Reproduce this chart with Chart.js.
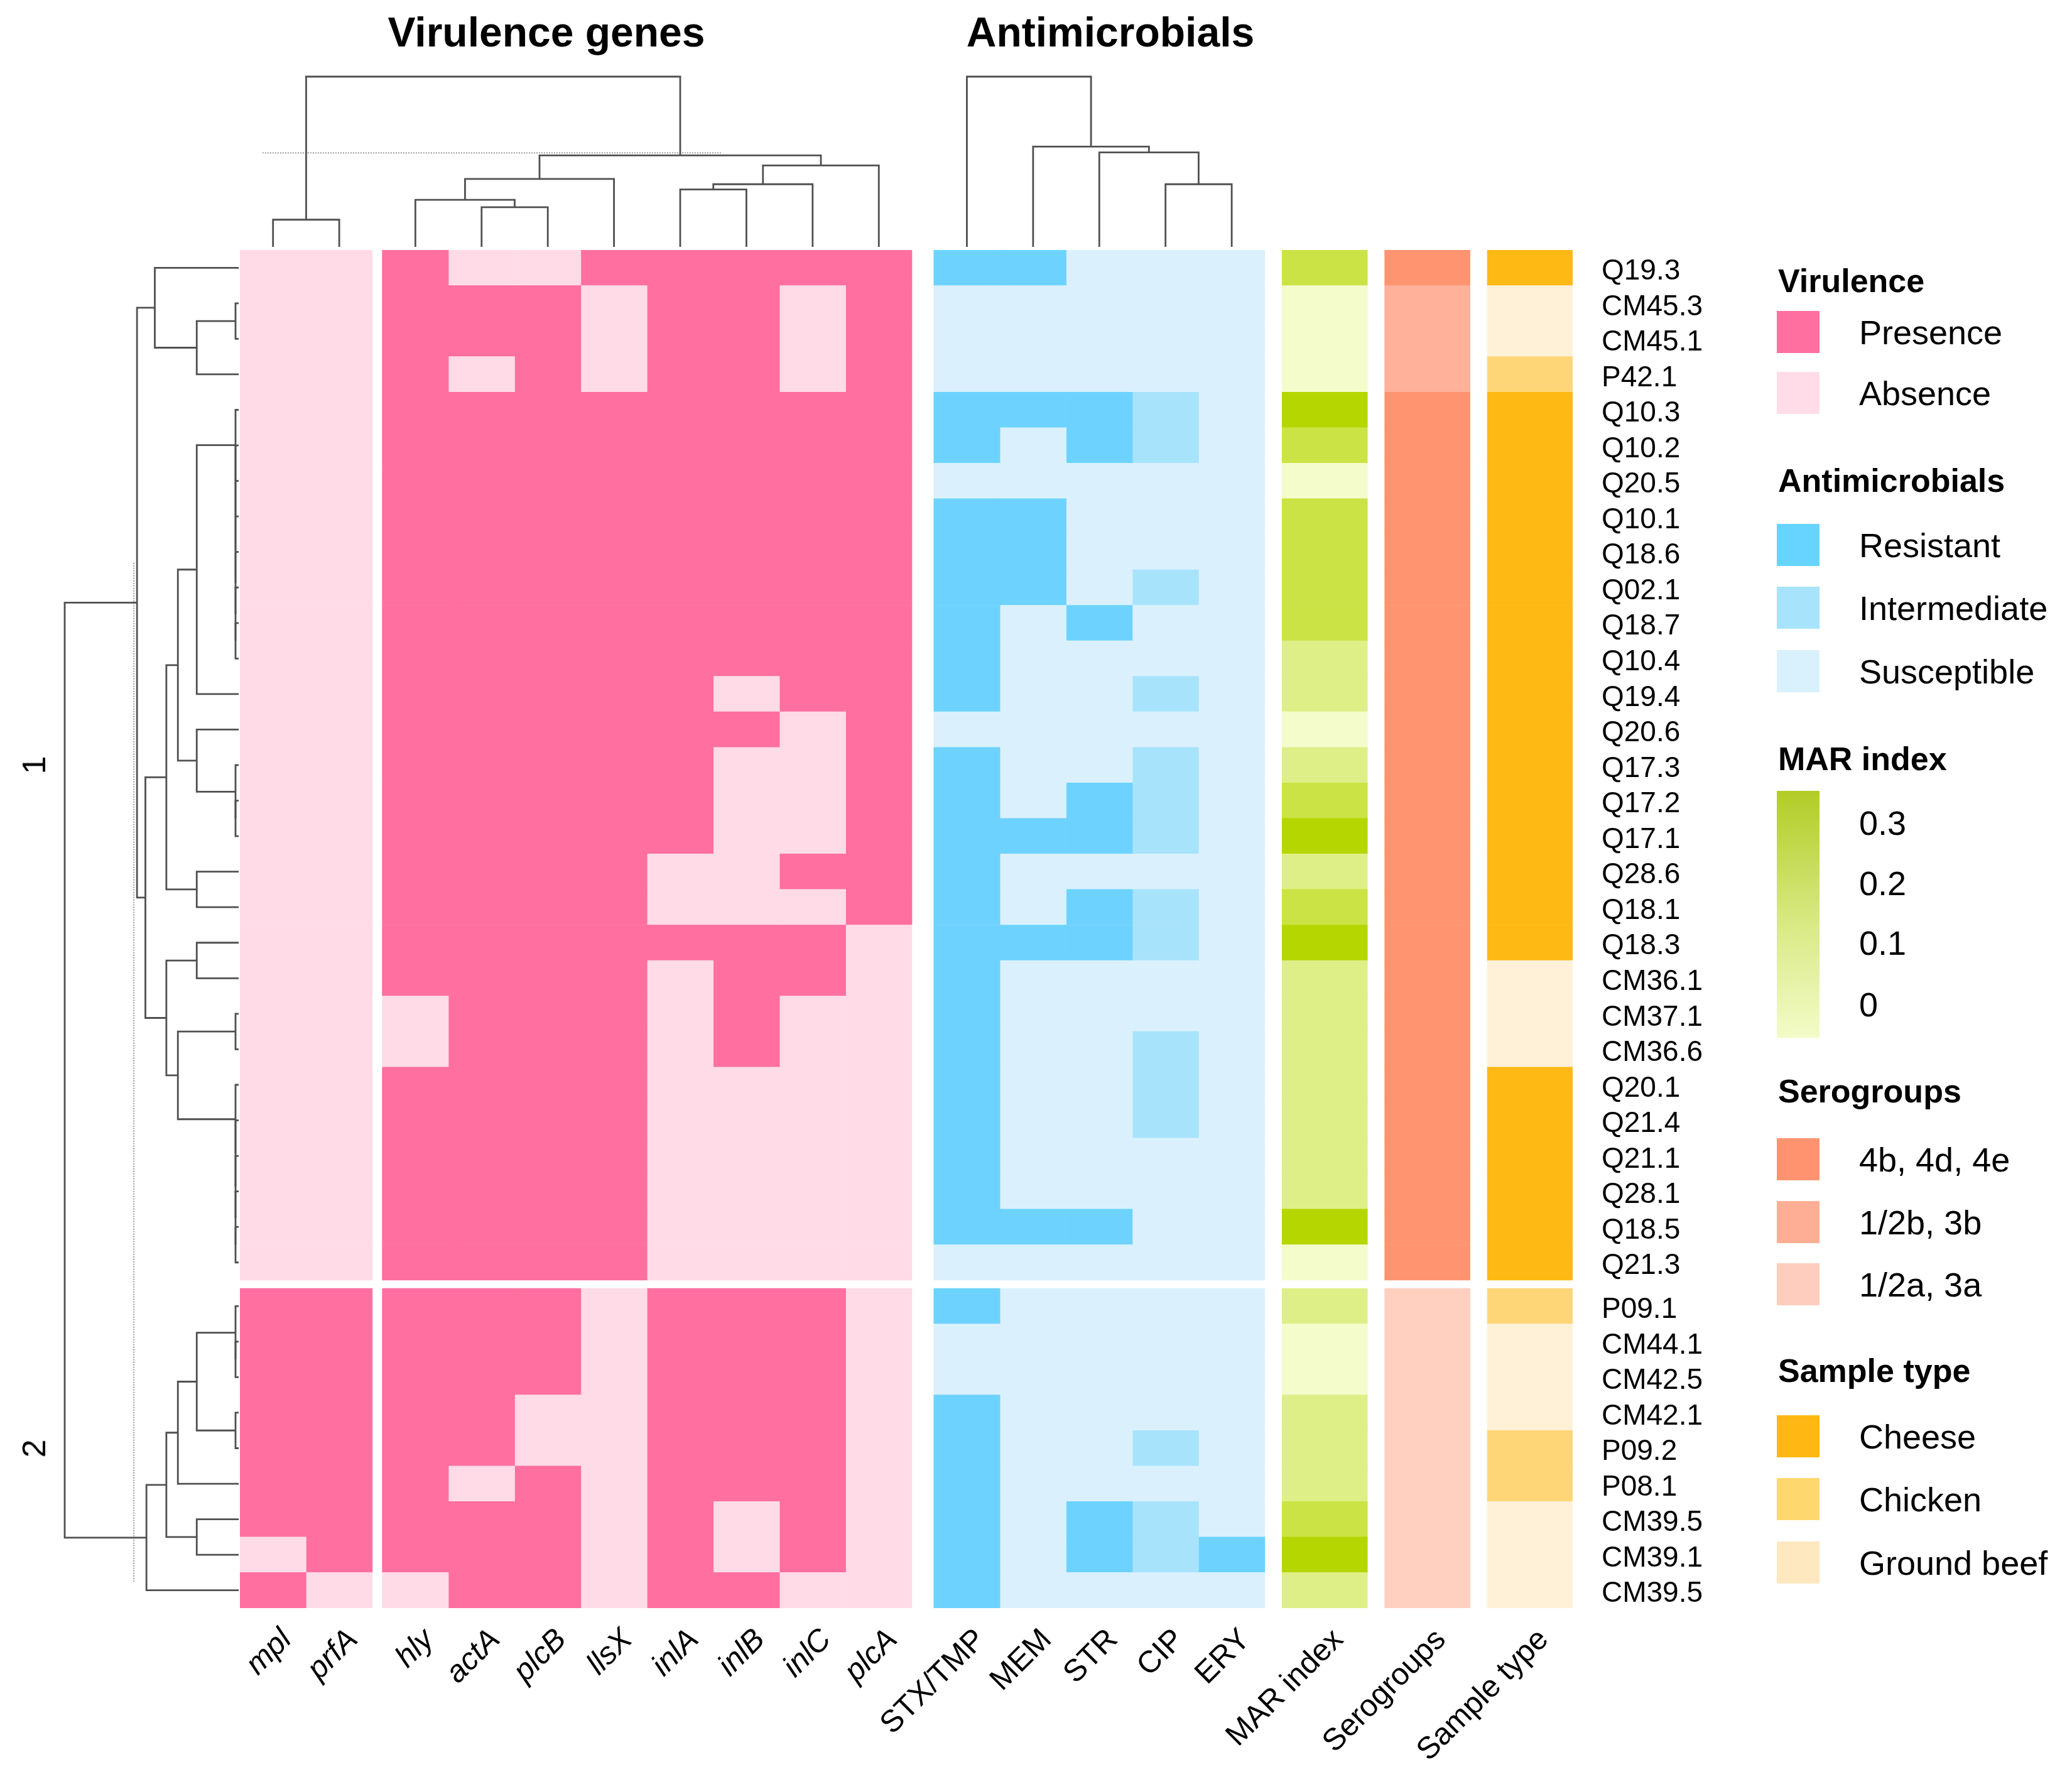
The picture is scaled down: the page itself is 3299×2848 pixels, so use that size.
<!DOCTYPE html>
<html>
<head>
<meta charset="utf-8">
<title>Virulence genes and antimicrobial resistance heatmap</title>
<script src="https://cdn.jsdelivr.net/npm/chart.js@4.4.1/dist/chart.umd.min.js"></script>
<style>
  body { margin: 0; background: #fff; }
  #page { position: relative; width: 3299px; height: 2848px; overflow: hidden;
          font-family: "Liberation Sans", Arial, sans-serif; color: #000; }
  canvas { position: absolute; }
  .title { position: absolute; font-size: 66px; font-weight: bold; line-height: 1;
           transform: translateX(-50%); white-space: nowrap; }
  .lg-title { position: absolute; font-size: 52px; font-weight: bold; line-height: 1;
              transform: translateY(-50%); white-space: nowrap; }
  .lg-label { position: absolute; font-size: 54px; line-height: 1;
              transform: translateY(-50%); white-space: nowrap; }
  .lg-box { position: absolute; }
  .cluster { position: absolute; font-size: 52px; line-height: 1;
             transform: translate(-50%, -50%) rotate(-90deg); }
</style>
</head>
<body>
<div id="page">
  <canvas id="rowDend"></canvas>
  <canvas id="colDend"></canvas>
  <canvas id="heatmap"></canvas>
  <div class="title" style="left:870px; top:18px;">Virulence genes</div>
  <div class="title" style="left:1768px; top:18px;">Antimicrobials</div>
  <div id="legend"></div>
</div>
<script>
// ---------- data ----------
const rowLabels = ["Q19.3","CM45.3","CM45.1","P42.1","Q10.3","Q10.2","Q20.5","Q10.1","Q18.6","Q02.1",
  "Q18.7","Q10.4","Q19.4","Q20.6","Q17.3","Q17.2","Q17.1","Q28.6","Q18.1","Q18.3",
  "CM36.1","CM37.1","CM36.6","Q20.1","Q21.4","Q21.1","Q28.1","Q18.5","Q21.3",
  "P09.1","CM44.1","CM42.5","CM42.1","P09.2","P08.1","CM39.5","CM39.1","CM39.5"];
const rowCluster = [1,1,1,1,1,1,1,1,1,1, 1,1,1,1,1,1,1,1,1,1, 1,1,1,1,1,1,1,1,1,
  2,2,2,2,2,2,2,2,2];

const virulenceGenes = ["mpl","prfA","hly","actA","plcB","llsX","inlA","inlB","inlC","plcA"];
const virulenceSlice = [1,1,2,2,2,2,2,2,2,2];
const antimicrobials = ["STX/TMP","MEM","STR","CIP","ERY"];
const annotationNames = ["MAR index","Serogroups","Sample type"];

// 1 = presence, 0 = absence
const virulence = [
  [0,0,1,0,0,1,1,1,1,1],
  [0,0,1,1,1,0,1,1,0,1],
  [0,0,1,1,1,0,1,1,0,1],
  [0,0,1,0,1,0,1,1,0,1],
  [0,0,1,1,1,1,1,1,1,1],
  [0,0,1,1,1,1,1,1,1,1],
  [0,0,1,1,1,1,1,1,1,1],
  [0,0,1,1,1,1,1,1,1,1],
  [0,0,1,1,1,1,1,1,1,1],
  [0,0,1,1,1,1,1,1,1,1],
  [0,0,1,1,1,1,1,1,1,1],
  [0,0,1,1,1,1,1,1,1,1],
  [0,0,1,1,1,1,1,0,1,1],
  [0,0,1,1,1,1,1,1,0,1],
  [0,0,1,1,1,1,1,0,0,1],
  [0,0,1,1,1,1,1,0,0,1],
  [0,0,1,1,1,1,1,0,0,1],
  [0,0,1,1,1,1,0,0,1,1],
  [0,0,1,1,1,1,0,0,0,1],
  [0,0,1,1,1,1,1,1,1,0],
  [0,0,1,1,1,1,0,1,1,0],
  [0,0,0,1,1,1,0,1,0,0],
  [0,0,0,1,1,1,0,1,0,0],
  [0,0,1,1,1,1,0,0,0,0],
  [0,0,1,1,1,1,0,0,0,0],
  [0,0,1,1,1,1,0,0,0,0],
  [0,0,1,1,1,1,0,0,0,0],
  [0,0,1,1,1,1,0,0,0,0],
  [0,0,1,1,1,1,0,0,0,0],
  [1,1,1,1,1,0,1,1,1,0],
  [1,1,1,1,1,0,1,1,1,0],
  [1,1,1,1,1,0,1,1,1,0],
  [1,1,1,1,0,0,1,1,1,0],
  [1,1,1,1,0,0,1,1,1,0],
  [1,1,1,0,1,0,1,1,1,0],
  [1,1,1,1,1,0,1,0,1,0],
  [0,1,1,1,1,0,1,0,1,0],
  [1,0,0,1,1,0,1,1,0,0]
];

// 2 = resistant, 1 = intermediate, 0 = susceptible
const resistance = [
  [2,2,0,0,0],[0,0,0,0,0],[0,0,0,0,0],[0,0,0,0,0],[2,2,2,1,0],
  [2,0,2,1,0],[0,0,0,0,0],[2,2,0,0,0],[2,2,0,0,0],[2,2,0,1,0],
  [2,0,2,0,0],[2,0,0,0,0],[2,0,0,1,0],[0,0,0,0,0],[2,0,0,1,0],
  [2,0,2,1,0],[2,2,2,1,0],[2,0,0,0,0],[2,0,2,1,0],[2,2,2,1,0],
  [2,0,0,0,0],[2,0,0,0,0],[2,0,0,1,0],[2,0,0,1,0],[2,0,0,1,0],
  [2,0,0,0,0],[2,0,0,0,0],[2,2,2,0,0],[0,0,0,0,0],
  [2,0,0,0,0],[0,0,0,0,0],[0,0,0,0,0],[2,0,0,0,0],[2,0,0,1,0],
  [2,0,0,0,0],[2,0,2,1,0],[2,0,2,1,2],[2,0,0,0,0]
];

const marIndex = [0.2,0,0,0,0.3,0.2,0,0.2,0.2,0.2, 0.2,0.1,0.1,0,0.1,0.2,0.3,0.1,0.2,0.3,
  0.1,0.1,0.1,0.1,0.1,0.1,0.1,0.3,0, 0.1,0,0,0.1,0.1,0.1,0.2,0.3,0.1];
const marTicks = ["0.3","0.2","0.1","0"];

const serogroupNames = ["4b, 4d, 4e","1/2b, 3b","1/2a, 3a"];
const serogroup = [0,1,1,1,0,0,0,0,0,0, 0,0,0,0,0,0,0,0,0,0, 0,0,0,0,0,0,0,0,0,
  2,2,2,2,2,2,2,2,2];

const sampleTypeNames = ["Cheese","Chicken","Ground beef"];
const sampleType = [0,2,2,1,0,0,0,0,0,0, 0,0,0,0,0,0,0,0,0,0, 2,2,2,0,0,0,0,0,0,
  1,2,2,2,1,1,2,2,2];

// dendrograms, hclust style: negative = leaf number, positive = earlier merge
const rowMerges = [
  [-2,-3,0.15],[1,-4,2.0],[-1,2,4.0],
  [-11,-12,0.15],[-10,4,0.15],[-9,5,0.15],[-8,6,0.15],[-7,7,0.15],[-6,8,0.15],[-5,9,0.15],
  [10,-13,2.0],[-16,-17,0.15],[-15,12,0.15],[-14,13,2.0],[11,14,2.9],
  [-18,-19,2.0],[15,16,3.45],[-20,-21,2.0],[-22,-23,0.15],
  [-28,-29,0.15],[-27,20,0.15],[-26,21,0.15],[-25,22,0.15],[-24,23,0.15],
  [19,24,2.9],[18,25,3.45],[17,26,4.45],[3,27,4.85],
  [-31,-32,0.15],[-30,29,0.15],[-33,-34,0.15],[30,31,2.0],[32,-35,2.9],
  [-36,-37,2.0],[33,34,3.45],[35,-38,4.4],[28,36,8.3]
];
const virulenceMerges = [
  [-1,-2,1.3],[-4,-5,1.9],[-3,2,2.25],[3,-6,3.25],
  [-7,-8,2.75],[5,-9,3.0],[6,-10,3.9],[4,7,4.38],[1,8,8.15]
];
const antimicrobialMerges = [[-4,-5,3.0],[-3,1,4.52],[-2,2,4.8],[-1,3,8.15]];
const rowCutHeight = 5.0;
const colCutHeight = 4.5;

// ---------- colours ----------
const virColors = ["#ffdbe7", "#ff6fa0"];
const amrColors = ["#daf1fd", "#a8e3fc", "#6dd3fe"];
const seroColors = ["#ff9470", "#ffb199", "#ffcfbf"];
const sampleColors = ["#ffb914", "#ffd677", "#fff1d8"];
const marLow = [244, 252, 203], marHigh = [182, 214, 0], marMax = 0.3;

function marColor(v) {
  const t = Math.min(Math.max(v / marMax, 0), 1);
  const c = marLow.map((lo, k) => Math.round(lo + (marHigh[k] - lo) * t));
  return `rgb(${c[0]},${c[1]},${c[2]})`;
}

// ---------- layout (page pixels) ----------
const FONT = '"Liberation Sans", Arial, sans-serif';
const hmLeft = 382, hmTop = 398, hmWidth = 2122, hmHeight = 2162;
const gapSlice = 0.15, gapGroup = 0.33, gapAnno = 0.26, annoWidth = 1.29, clusterGap = 0.23;
const rowCutSpan = [8.8, 37.5];
const colCutSpan = [0.34, 7.28];

// column spans in column units
const columnNames = [...virulenceGenes, ...antimicrobials, ...annotationNames];
const colSpans = [];
let cx = 0;
virulenceGenes.forEach((g, i) => {
  if (i > 0 && virulenceSlice[i] !== virulenceSlice[i - 1]) cx += gapSlice;
  colSpans.push([cx, cx + 1]);
  cx += 1;
});
cx += gapGroup;
antimicrobials.forEach(() => { colSpans.push([cx, cx + 1]); cx += 1; });
annotationNames.forEach(() => { cx += gapAnno; colSpans.push([cx, cx + annoWidth]); cx += annoWidth; });
const xTotal = cx;
const colCenters = colSpans.map(s => (s[0] + s[1]) / 2);

// row centres in row units (small gap between the two clusters)
const rowPos = rowLabels.map((r, i) => i + 0.5 + (rowCluster[i] === 2 ? clusterGap : 0));
const yTotal = rowLabels.length + clusterGap;

function placeCanvas(id, left, top, width, height) {
  const c = document.getElementById(id);
  c.width = width; c.height = height;
  c.style.left = left + "px"; c.style.top = top + "px";
  c.style.width = width + "px"; c.style.height = height + "px";
  return c;
}

function baseOptions(padding, xScale, yScale) {
  return {
    responsive: false, animation: false, events: [],
    layout: { padding: padding, autoPadding: false },
    plugins: { legend: { display: false }, tooltip: { enabled: false } },
    scales: { x: xScale, y: yScale }
  };
}

// ---------- heatmap ----------
const cellColors = [];
virulenceGenes.forEach((g, j) => cellColors.push(virulence.map(r => virColors[r[j]])));
antimicrobials.forEach((a, j) => cellColors.push(resistance.map(r => amrColors[r[j]])));
cellColors.push(marIndex.map(marColor));
cellColors.push(serogroup.map(s => seroColors[s]));
cellColors.push(sampleType.map(s => sampleColors[s]));

const hmDatasets = columnNames.map((name, j) => ({
  label: name,
  data: rowLabels.map((r, i) => ({ y: rowPos[i], x: colSpans[j] })),
  backgroundColor: cellColors[j],
  borderWidth: 0,
  barPercentage: 1,
  categoryPercentage: 1,
  grouped: false
}));

const padL = 90, padT = 100, axisRightW = 260, axisBottomH = 280;
placeCanvas("heatmap", hmLeft - padL, hmTop - padT,
  padL + hmWidth + axisRightW, padT + hmHeight + axisBottomH);

new Chart(document.getElementById("heatmap"), {
  type: "bar",
  data: { datasets: hmDatasets },
  options: Object.assign(baseOptions({ left: padL, top: padT, right: 0, bottom: 0 },
    {
      type: "linear", position: "bottom", min: 0, max: xTotal, offset: false,
      grid: { display: false, drawTicks: false }, border: { display: false },
      afterBuildTicks: s => { s.ticks = colCenters.map(v => ({ value: v })); },
      afterFit: s => { s.height = axisBottomH; },
      ticks: {
        autoSkip: false, minRotation: 45, maxRotation: 45, padding: 22, labelOffset: 22, color: "#000",
        font: ctx => ({ family: FONT, size: 49, style: ctx.index < virulenceGenes.length ? "italic" : "normal" }),
        callback: (v, i) => columnNames[i]
      }
    },
    {
      type: "linear", position: "right", min: 0, max: yTotal, reverse: true, offset: false,
      grid: { display: false, drawTicks: false }, border: { display: false },
      afterBuildTicks: s => { s.ticks = rowPos.map(v => ({ value: v })); },
      afterFit: s => { s.width = axisRightW; },
      ticks: { autoSkip: false, padding: 46, labelOffset: 6, color: "#000", font: { family: FONT, size: 46 },
               callback: (v, i) => rowLabels[i] }
    }), { indexAxis: "y" })
});

// ---------- dendrograms ----------
function dendrogram(merges, leafPos) {
  const nodes = [];
  const node = id => id < 0 ? { pos: leafPos[-id - 1], h: 0 } : nodes[id - 1];
  return merges.map(([a, b, h]) => {
    const A = node(a), B = node(b);
    nodes.push({ pos: (A.pos + B.pos) / 2, h: h });
    return [[A.pos, A.h], [A.pos, h], [B.pos, h], [B.pos, B.h]];
  });
}

const dendroLine = { showLine: true, pointRadius: 0, borderColor: "#505050", borderWidth: 2.8, clip: false };
const cutLine = { showLine: true, pointRadius: 0, borderColor: "#9a9a9a", borderWidth: 2, borderDash: [2, 2], clip: false };

// rows (left)
const rowRoot = Math.max(...rowMerges.map(m => m[2]));
const rowDatasets = dendrogram(rowMerges, rowPos)
  .map(pts => Object.assign({ data: pts.map(([p, h]) => ({ x: h, y: p })) }, dendroLine));
rowDatasets.push(Object.assign({ data: rowCutSpan.map(p => ({ x: rowCutHeight, y: p })) }, cutLine));

placeCanvas("rowDend", 60, hmTop - 20, hmLeft - 60, hmHeight + 40);
new Chart(document.getElementById("rowDend"), {
  type: "scatter",
  data: { datasets: rowDatasets },
  options: baseOptions({ left: 43, right: 2, top: 20, bottom: 20 },
    { type: "linear", display: false, min: 0, max: rowRoot, reverse: true },
    { type: "linear", display: false, min: 0, max: yTotal, reverse: true })
});

// columns (top)
const colRoot = Math.max(...virulenceMerges.map(m => m[2]), ...antimicrobialMerges.map(m => m[2]));
const colDatasets = [
  ...dendrogram(virulenceMerges, colCenters.slice(0, virulenceGenes.length)),
  ...dendrogram(antimicrobialMerges, colCenters.slice(virulenceGenes.length, virulenceGenes.length + antimicrobials.length))
].map(pts => Object.assign({ data: pts.map(([p, h]) => ({ x: p, y: h })) }, dendroLine));
colDatasets.push(Object.assign({ data: colCutSpan.map(p => ({ x: p, y: colCutHeight })) }, cutLine));

placeCanvas("colDend", hmLeft - 20, 100, hmWidth + 40, 293);
new Chart(document.getElementById("colDend"), {
  type: "scatter",
  data: { datasets: colDatasets },
  options: baseOptions({ left: 20, right: 20, top: 22, bottom: 0 },
    { type: "linear", display: false, min: 0, max: xTotal },
    { type: "linear", display: false, min: 0, max: colRoot })
});

// ---------- cluster numbers ----------
const pxPerRow = hmHeight / yTotal;
[1, 2].forEach(k => {
  const pos = rowPos.filter((p, i) => rowCluster[i] === k);
  const d = document.createElement("div");
  d.className = "cluster";
  d.textContent = k;
  d.style.left = "54px";
  d.style.top = (hmTop + (pos[0] + pos[pos.length - 1]) / 2 * pxPerRow) + "px";
  document.getElementById("page").appendChild(d);
});

// ---------- legend ----------
const legend = document.getElementById("legend");
const lgBoxX = 2829, lgLabelX = 2960, lgBoxW = 68, lgBoxH = 67;

function addEl(cls, text, left, top, extra) {
  const d = document.createElement("div");
  d.className = cls;
  if (text !== null) d.textContent = text;
  d.style.left = left + "px";
  d.style.top = top + "px";
  Object.assign(d.style, extra || {});
  legend.appendChild(d);
}

function discreteLegend(title, titleY, names, colors, boxTops) {
  addEl("lg-title", title, lgBoxX + 2, titleY);
  names.forEach((n, i) => {
    addEl("lg-box", null, lgBoxX, boxTops[i], { width: lgBoxW + "px", height: lgBoxH + "px", background: colors[i] });
    addEl("lg-label", n, lgLabelX, boxTops[i] + lgBoxH / 2);
  });
}

discreteLegend("Virulence", 447, ["Presence", "Absence"], [virColors[1], "#ffdce8"], [495, 592]);
discreteLegend("Antimicrobials", 765, ["Resistant", "Intermediate", "Susceptible"],
  ["#66d4ff", "#a8e3fc", "#d9f1fd"], [834, 934, 1035]);

addEl("lg-title", "MAR index", lgBoxX + 2, 1208);
addEl("lg-box", null, lgBoxX, 1259, { width: lgBoxW + "px", height: "393px",
  background: "linear-gradient(to top, #f3fbc8 0%, #d9ea86 45%, #b2cc26 100%)" });
[1310, 1406, 1501, 1599].forEach((y, i) => addEl("lg-label", marTicks[i], lgLabelX, y));

discreteLegend("Serogroups", 1737, serogroupNames, ["#ff936f", "#ffae96", "#ffcdbd"], [1812, 1912, 2011]);
discreteLegend("Sample type", 2182, sampleTypeNames, ["#ffb813", "#ffd76f", "#fee8bf"], [2253, 2353, 2454]);
</script>
</body>
</html>
